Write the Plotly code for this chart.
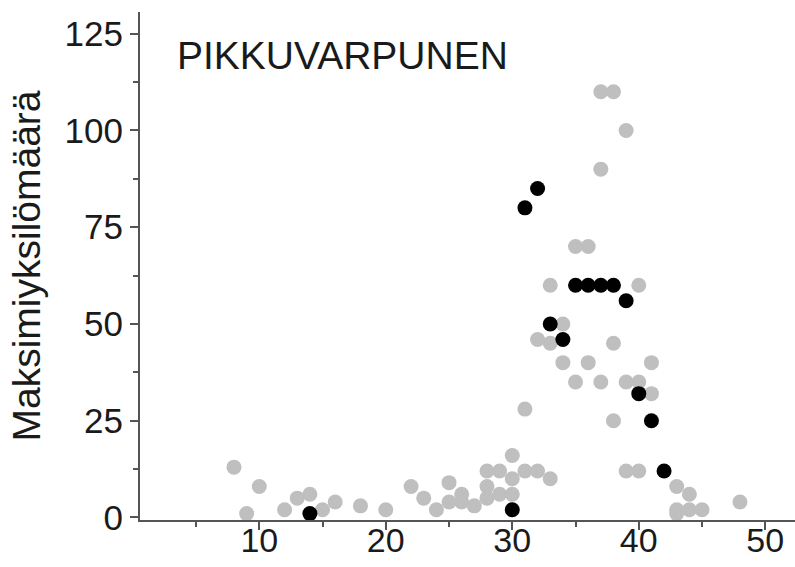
import plotly.graph_objects as go

# Grey points (other years / observations)
grey_x = [8, 9, 10, 12, 13, 14, 15, 16, 18, 20, 22, 23, 24, 25, 25, 26, 26, 27,
          28, 28, 28, 29, 29, 30, 30, 30, 31, 32, 33, 31, 32, 33, 33, 34, 34, 35,
          35, 36, 36, 37, 37, 37, 38, 38, 38, 39, 39, 39, 40, 40, 40, 41, 41,
          43, 44, 43, 43, 44, 45, 48]
grey_y = [13, 1, 8, 2, 5, 6, 2, 4, 3, 2, 8, 5, 2, 9, 4, 6, 4, 3,
          12, 8, 5, 12, 6, 16, 10, 6, 12, 12, 10, 28, 46, 45, 60, 50, 40, 35,
          70, 70, 40, 35, 90, 110, 110, 45, 25, 100, 35, 12, 60, 35, 12, 40, 32,
          8, 6, 2, 1, 2, 2, 4]

# Black points (highlighted year)
black_x = [14, 30, 31, 32, 33, 34, 35, 36, 37, 38, 39, 40, 41, 42]
black_y = [1, 2, 80, 85, 50, 46, 60, 60, 60, 60, 56, 32, 25, 12]

title_text = "PIKKUVARPUNEN"
y_title = "Maksimiyksilömäärä"
x_ticks = [10, 20, 30, 40, 50]
x_minor = [5, 15, 25, 35, 45]
y_ticks = [0, 25, 50, 75, 100, 125]
y_minor = [12.5, 37.5, 62.5, 87.5, 112.5]

FONT = "Liberation Sans, Arial, sans-serif"
AXIS_COLOR = "#555555"
TXT = "#1a1a1a"

fig = go.Figure()
fig.add_trace(go.Scatter(x=grey_x, y=grey_y, mode="markers",
                         marker=dict(size=15, color="#bfbfbf", line=dict(width=0)),
                         hoverinfo="skip", showlegend=False))
fig.add_trace(go.Scatter(x=black_x, y=black_y, mode="markers",
                         marker=dict(size=15, color="#000000", line=dict(width=0)),
                         hoverinfo="skip", showlegend=False))

X_RANGE = [0.57, 52.35]

fig.update_layout(
    width=795, height=567,
    margin=dict(l=140, r=0, t=12, b=47),
    paper_bgcolor="white", plot_bgcolor="white",
    font=dict(family=FONT, size=34, color=TXT),
    showlegend=False,
    annotations=[dict(text=title_text, xref="paper", yref="paper",
                      x=0.053, y=0.915, xanchor="left", yanchor="middle",
                      showarrow=False, font=dict(family=FONT, size=39, color=TXT))],
    # label-only x axis placed so the tick labels sit just below the tick marks
    xaxis2=dict(overlaying="x", matches="x", anchor="free", position=0.006,
                range=X_RANGE, tickmode="array", tickvals=x_ticks,
                showline=False, ticks="", showgrid=False, zeroline=False,
                automargin=False, side="bottom",
                tickfont=dict(family=FONT, size=34, color=TXT)),
)

fig.update_layout(xaxis=dict(
    range=X_RANGE, tickmode="array", tickvals=x_ticks, showticklabels=False,
    ticks="outside", ticklen=8, tickwidth=2, tickcolor=AXIS_COLOR,
    showline=True, linecolor=AXIS_COLOR, linewidth=2,
    showgrid=False, zeroline=False, automargin=False,
    minor=dict(tickvals=x_minor, ticks="outside", ticklen=5,
               tickwidth=2, tickcolor=AXIS_COLOR),
))
fig.update_yaxes(
    range=[-0.65, 130.6], tickmode="array", tickvals=y_ticks,
    ticks="outside", ticklen=8, tickwidth=2, tickcolor=AXIS_COLOR,
    showline=True, linecolor=AXIS_COLOR, linewidth=2,
    showgrid=False, zeroline=False, automargin=False,
    minor=dict(tickvals=y_minor, ticks="outside", ticklen=5,
               tickwidth=2, tickcolor=AXIS_COLOR),
    tickfont=dict(family=FONT, size=35, color=TXT),
    title=dict(text=y_title, font=dict(family=FONT, size=39, color=TXT), standoff=12),
)
# invisible trace attached to xaxis2 so that axis is drawn
fig.add_trace(go.Scatter(x=[x_ticks[0]], y=[y_ticks[0]], xaxis="x2", mode="markers",
                         marker=dict(opacity=0), hoverinfo="skip", showlegend=False))

fig.write_html("out.html")
